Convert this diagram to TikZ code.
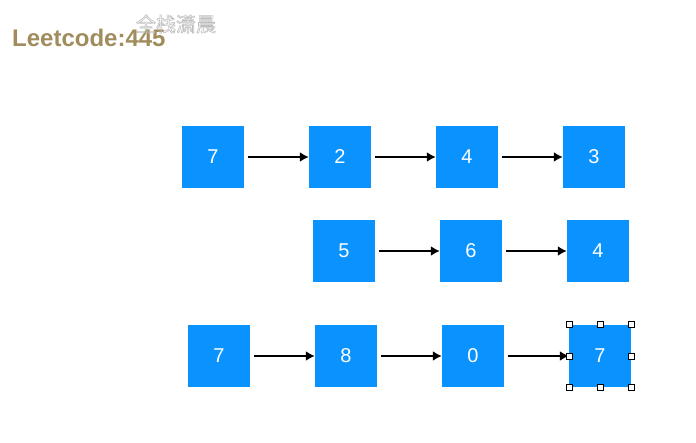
\documentclass[tikz,border=0pt]{standalone}
\usepackage{fontspec}
\setmainfont{Liberation Sans}
\newfontfamily\cjkfont{Noto Sans CJK SC}
\usetikzlibrary{arrows.meta}
\definecolor{boxblue}{RGB}{10,147,255}
\definecolor{titlegold}{RGB}{160,140,92}
\definecolor{markgray}{RGB}{190,190,190}
\def\outlined#1{\special{pdf:literal direct 1 Tr 0.6 w}#1\special{pdf:literal direct 0 Tr}}
\tikzset{
  listnode/.style={fill=boxblue, minimum size=62pt, inner sep=0pt, text=white, font=\fontsize{20}{24}\selectfont},
  nextptr/.style={-{Latex[length=9pt,width=10pt]}, line width=1.8pt, shorten <=4pt},
  handle/.style={draw=black, fill=white, line width=0.6pt, minimum size=6pt, inner sep=0pt}
}

\begin{document}
\begin{tikzpicture}[x=1pt,y=-1pt]
  \useasboundingbox (0,0) rectangle (696,443);
  % title and watermark
  \node[anchor=base west, inner sep=0pt, text=titlegold, font=\fontsize{24}{28}\selectfont\bfseries] (title) at (12,47) {Leetcode:445};
  \node[inner sep=0pt, text=markgray, font=\cjkfont\fontsize{20}{24}\selectfont] (mark) at (176,24) {\outlined{全栈潇晨}};

  % first list: 7 -> 2 -> 4 -> 3
  \node[listnode] (a1) at (213,157) {7};
  \node[listnode] (a2) at (340,157) {2};
  \node[listnode] (a3) at (467,157) {4};
  \node[listnode] (a4) at (594,157) {3};
  \draw[nextptr] (a1) -- (a2);
  \draw[nextptr] (a2) -- (a3);
  \draw[nextptr] (a3) -- (a4);

  % second list: 5 -> 6 -> 4
  \node[listnode] (b1) at (344,251) {5};
  \node[listnode] (b2) at (471,251) {6};
  \node[listnode] (b3) at (598,251) {4};
  \draw[nextptr] (b1) -- (b2);
  \draw[nextptr] (b2) -- (b3);

  % sum: 7 -> 8 -> 0 -> 7
  \node[listnode] (c1) at (219,356) {7};
  \node[listnode] (c2) at (346,356) {8};
  \node[listnode] (c3) at (473,356) {0};
  \node[listnode] (c4) at (600,356) {7};
  \draw[nextptr] (c1) -- (c2);
  \draw[nextptr] (c2) -- (c3);
  \draw[nextptr] (c3) -- (c4);

  % selection handles
  \foreach \a in {north west,north,north east,west,east,south west,south,south east}
    \node[handle] at (c4.\a) {};
\end{tikzpicture}
\end{document}
